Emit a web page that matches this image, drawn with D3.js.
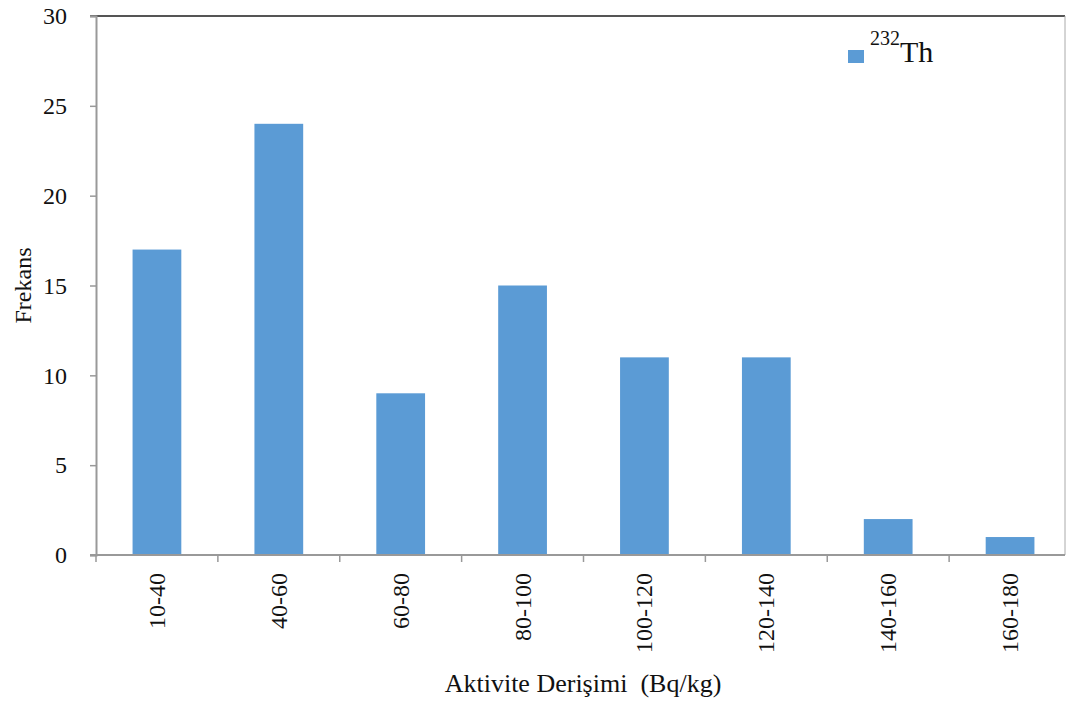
<!DOCTYPE html>
<html>
<head>
<meta charset="utf-8">
<script src="https://cdn.jsdelivr.net/npm/d3@7"></script>
<style>
  body { margin: 0; background: #fff; }
  text { font-family: "Liberation Serif", "Times New Roman", serif; fill: #111; }
</style>
</head>
<body>
<div id="chart"></div>
<script>
const categories = ['10-40', '40-60', '60-80', '80-100', '100-120', '120-140', '140-160', '160-180'];
const frequencies = [17, 24, 9, 15, 11, 11, 2, 1];
const yTicks = [0, 5, 10, 15, 20, 25, 30];

const width = 1068, height = 707,
    margin = {top: 16, bottom: 152, left: 96},
    plotRight = 1071,   // category axis runs slightly past the visible frame
    frameRight = 1065,
    barColor = '#5b9bd5';

const svg = d3.select('#chart').append('svg')
    .attr('width', width)
    .attr('height', height);

const x = d3.scaleBand()
    .domain(categories)
    .range([margin.left, plotRight])
    .paddingInner(0.6)
    .paddingOuter(0.3);

const y = d3.scaleLinear()
    .domain([0, 30])
    .range([height - margin.bottom, margin.top]);

// frame: dark top line, grey right line
svg.append('line')
    .attr('x1', margin.left - 6).attr('x2', frameRight)
    .attr('y1', y(30)).attr('y2', y(30))
    .attr('stroke', '#555').attr('stroke-width', 2);
svg.append('line')
    .attr('x1', frameRight).attr('x2', frameRight)
    .attr('y1', y(30)).attr('y2', y(0))
    .attr('stroke', '#aaa').attr('stroke-width', 1);

// bars
svg.selectAll('.bar')
    .data(frequencies)
    .enter().append('rect')
    .attr('class', 'bar')
    .attr('x', (d, i) => x(categories[i]))
    .attr('y', d => y(d))
    .attr('width', x.bandwidth())
    .attr('height', d => y(0) - y(d))
    .attr('fill', barColor);

// y axis
const yAxis = svg.append('g')
    .attr('transform', 'translate(' + margin.left + ',0)')
    .call(d3.axisLeft(y).tickValues(yTicks).tickSize(6).tickPadding(23));
yAxis.select('.domain').attr('stroke', '#999').attr('stroke-width', 2);
yAxis.selectAll('.tick line').attr('stroke', '#999').attr('stroke-width', 1.5);
yAxis.selectAll('.tick text')
    .style('font-family', '"Liberation Serif", serif')
    .style('font-size', '24px')
    .attr('fill', '#111');

// x axis: ticks at band boundaries
const xAxis = svg.append('g')
    .attr('transform', 'translate(0,' + y(0) + ')');
xAxis.append('line')
    .attr('x1', margin.left - 6).attr('x2', frameRight)
    .attr('stroke', '#999').attr('stroke-width', 2);
const step = x.step();
const bounds = d3.range(categories.length).map(i => margin.left + i * step);
xAxis.selectAll('.xtick')
    .data(bounds)
    .enter().append('line')
    .attr('x1', d => d).attr('x2', d => d)
    .attr('y1', 0).attr('y2', 7)
    .attr('stroke', '#999').attr('stroke-width', 1.5);
xAxis.selectAll('.xlabel')
    .data(categories)
    .enter().append('text')
    .attr('transform', d => 'translate(' + (x(d) + x.bandwidth() / 2 + 8) + ',18) rotate(-90)')
    .attr('text-anchor', 'end')
    .style('font-size', '24px')
    .text(d => d);

// axis titles
svg.append('text')
    .attr('x', 583).attr('y', 692)
    .attr('text-anchor', 'middle')
    .style('font-size', '26px')
    .style('white-space', 'pre')
    .text('Aktivite Derişimi  (Bq/kg)');

svg.append('text')
    .attr('transform', 'translate(31,' + ((y(0) + y(30)) / 2) + ') rotate(-90)')
    .attr('text-anchor', 'middle')
    .style('font-size', '24px')
    .text('Frekans');

// legend
const legend = svg.append('g').attr('transform', 'translate(848,50)');
legend.append('rect')
    .attr('width', 16).attr('height', 13)
    .attr('fill', barColor);
const lt = legend.append('text')
    .attr('x', 22).attr('y', 12)
    .style('font-size', '30px');
lt.append('tspan').attr('dy', -17).style('font-size', '20px').text('232');
lt.append('tspan').attr('dy', 17).text('Th');
</script>
</body>
</html>
